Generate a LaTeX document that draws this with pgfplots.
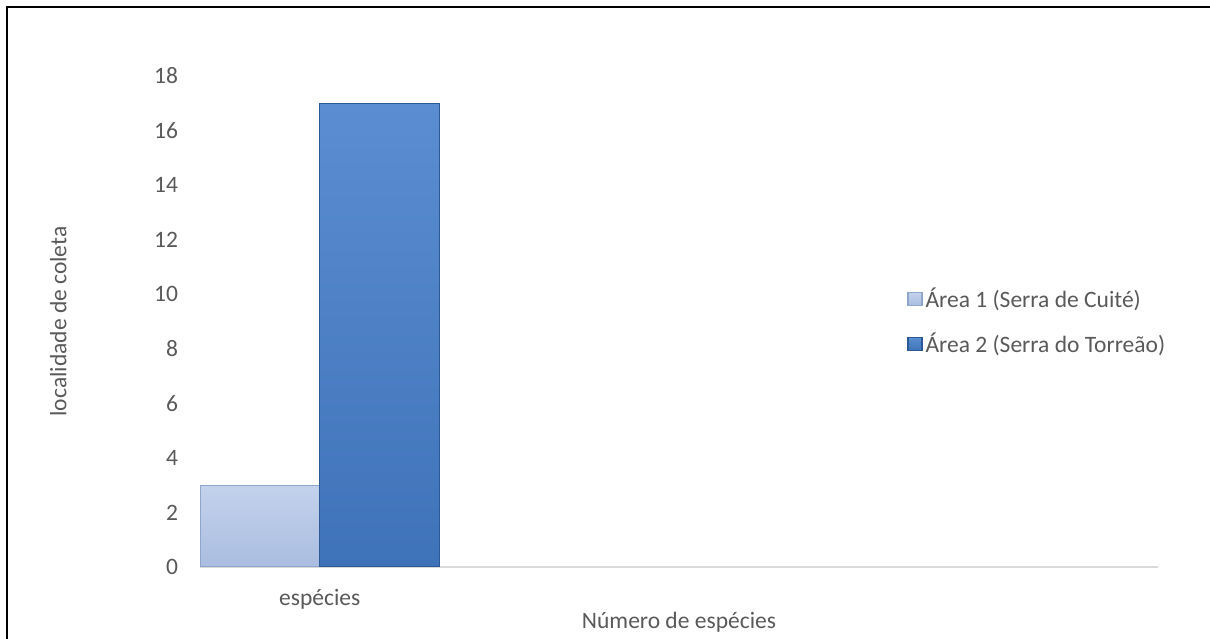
\documentclass[border=0pt]{standalone}
\usepackage{fontspec}
\setmainfont{Carlito}
\usepackage{pgfplots}
\pgfplotsset{compat=1.18}
\definecolor{txt}{HTML}{595959}
\definecolor{axisgray}{HTML}{D9D9D9}
\definecolor{aOneTop}{HTML}{C3D2EC}
\definecolor{aOneBot}{HTML}{AABDE0}
\definecolor{aOneEdge}{HTML}{8FA6CC}
\definecolor{aTwoTop}{HTML}{5A8DD1}
\definecolor{aTwoBot}{HTML}{3F73B9}
\definecolor{aTwoEdge}{HTML}{2C5A96}
\begin{document}
\begin{tikzpicture}
\path[use as bounding box] (0bp,0bp) rectangle (605bp,319.5bp);
\draw[line width=1.1bp, black] (3.5bp,0bp) -- (3.5bp,316bp) -- (605bp,316bp);
\begin{axis}[
  at={(100bp,36bp)}, anchor=south west,
  scale only axis, width=479bp, height=245.5bp,
  xmin=0.5, xmax=4.5, ymin=0, ymax=18,
  ytick={0,2,...,18},
  xtick={1}, xticklabels={espécies},
  axis lines*=left,
  x axis line style={draw=axisgray, line width=1bp},
  y axis line style={draw=none},
  tick style={draw=none},
  major tick length=0pt,
  font=\fontsize{11.8}{14}\selectfont,
  every tick label/.append style={text=txt},
  /pgf/number format/assume math mode=true,
  yticklabel style={xshift=-7.5bp},
  xticklabel style={anchor=center, yshift=-16bp},
  every axis x label/.style={at={(axis description cs:0.5,-0.113)}, anchor=center, text=txt},
  every axis y label/.style={at={(axis description cs:-0.148,0.5)}, rotate=90, anchor=center, text=txt},
  xlabel={Número de espécies},
  ylabel={localidade de coleta},
  legend style={at={(axis description cs:0.738,0.5)}, anchor=west, draw=none, fill=none,
    inner sep=0pt, row sep=8bp, text=txt, font=\fontsize{11.8}{14}\selectfont,
    nodes={inner sep=1.5bp}},
  legend cell align=left,
  legend image code/.code={\draw[#1] (0bp,-3.25bp) rectangle (7bp,3.25bp);},
]
\addplot[ybar, bar width=0.5, bar shift=-0.25, top color=aOneTop, bottom color=aOneBot, draw=aOneEdge, line width=0.6bp]
  coordinates {(1,3)};
\addlegendentry{Área 1 (Serra de Cuité)}
\addplot[ybar, bar width=0.5, bar shift=0.25, top color=aTwoTop, bottom color=aTwoBot, draw=aTwoEdge, line width=0.6bp]
  coordinates {(1,17)};
\addlegendentry{Área 2 (Serra do Torreão)}
\end{axis}
\end{tikzpicture}
\end{document}
